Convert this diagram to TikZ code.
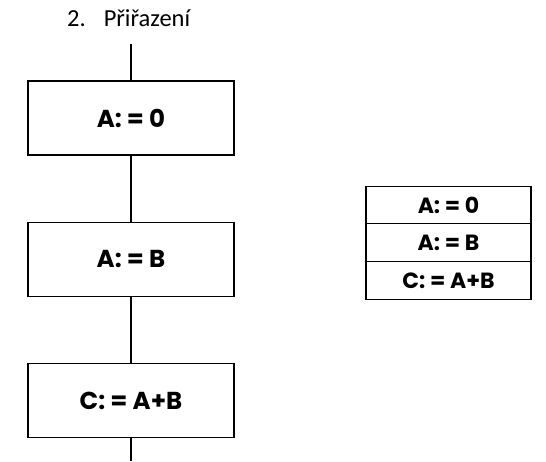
\documentclass[tikz,border=0pt]{standalone}
\usepackage{fontspec}
\setmainfont{Carlito}
\newfontfamily\opfont{Poppins}
\usetikzlibrary{positioning}

\begin{document}
\begin{tikzpicture}[
            x=1pt, y=-1pt,
            node distance=66pt,
            block/.style={rectangle, draw, line width=1.2pt, minimum width=206pt, minimum height=74pt,
                font=\opfont\bfseries\fontsize{24.5}{24.5}\selectfont},
            cell/.style={rectangle, draw, line width=1.2pt, minimum width=165pt, minimum height=37.7pt,
                inner sep=0pt, outer sep=0pt, font=\opfont\bfseries\fontsize{22}{22}\selectfont},
            flow/.style={line width=1.8pt},
        ]
            \useasboundingbox (0,0) rectangle (546,461);
            \node[anchor=base west, inner sep=0pt, font=\fontsize{24.5}{24.5}\selectfont] (title) at (67,26) {2.\hspace{18pt}Přiřazení};

            \node[block] (assignA) at (131,118) {A: = 0};
            \node[block, below=of assignA] (assignB) {A: = B};
            \node[block, below=of assignB] (assignC) {C: = A+B};
            \coordinate (start) at (131,44);
            \coordinate (stop) at (131,461);
            \draw[flow] (start) -- (assignA);
            \draw[flow] (assignA) -- (assignB);
            \draw[flow] (assignB) -- (assignC);
            \draw[flow] (assignC) -- (stop);

            \node[cell] (rowA) at (448.5,205) {A: = 0};
            \node[cell, below=0pt of rowA] (rowB) {A: = B};
            \node[cell, below=0pt of rowB] (rowC) {C: = A+B};
        \end{tikzpicture}
\end{document}
